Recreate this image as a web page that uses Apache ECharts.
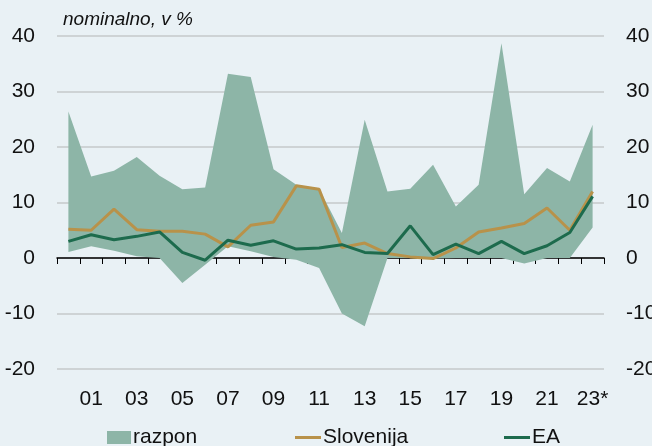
<!DOCTYPE html>
<html>
<head>
<meta charset="utf-8">
<script src="https://cdn.jsdelivr.net/npm/echarts@6/dist/echarts.min.js"></script>
<style>
  html, body { margin: 0; padding: 0; background: #e9f1f5; }
  #chart { width: 652px; height: 446px; }
</style>
</head>
<body>
<div id="chart"></div>
<script>
// leta (kategorije na osi x)
const years = ["00", "01", "02", "03", "04", "05", "06", "07", "08", "09", "10", "11",
  "12", "13", "14", "15", "16", "17", "18", "19", "20", "21", "22", "23*"];
// razpon - spodnja in zgornja meja
const rangeLow = [1.1, 2.1, 1.3, 0.3, 0.0, -4.5, -1.2, 2.1, 1.2, 0.2, -0.3, -1.8,
  -10.0, -12.3, 0.0, 0.0, -0.1, 0.0, 0.0, 0.0, -1.0, 0.0, 0.0, 5.5];
const rangeHigh = [26.4, 14.7, 15.7, 18.2, 14.8, 12.4, 12.7, 33.2, 32.6, 16.0, 13.2, 12.5,
  4.5, 24.9, 12.0, 12.5, 16.8, 9.3, 13.2, 38.7, 11.5, 16.2, 13.8, 24.0];
// Slovenija
const slovenia = [5.2, 5.0, 8.8, 5.1, 4.8, 4.8, 4.3, 2.0, 5.9, 6.5, 13.0, 12.4,
  1.9, 2.7, 0.8, 0.2, -0.1, 1.8, 4.7, 5.4, 6.2, 9.0, 5.0, 12.0];
// evrsko obmocje
const euroArea = [3.0, 4.2, 3.3, 3.9, 4.7, 1.0, -0.4, 3.2, 2.3, 3.1, 1.6, 1.8,
  2.4, 1.0, 0.8, 5.8, 0.6, 2.5, 0.8, 3.0, 0.8, 2.2, 4.6, 11.1];
// oznake osi y
const yTicks = [-20, -10, 0, 10, 20, 30, 40];

const FONT = "'Liberation Sans', Arial, sans-serif";
const BAND = "#8db5a7";
const SLO = "#b8924a";
const EA = "#1d6b4d";

const rangeSpan = rangeHigh.map((v, i) => +(v - rangeLow[i]).toFixed(2));

const chart = echarts.init(document.getElementById("chart"));

const yAxisBase = (pos) => ({
  type: "value",
  position: pos,
  min: yTicks[0],
  max: yTicks[yTicks.length - 1],
  interval: 10,
  axisLine: { show: false },
  axisTick: { show: false },
  axisLabel: { color: "#111", fontFamily: FONT, fontSize: 21, margin: 22 },
  splitLine: { show: pos === "left", lineStyle: { color: "#c4c8ca", width: 1.5 } }
});

const legendBase = (left, name, icon, w, h) => ({
  left: left,
  top: 427,
  data: [{ name: name, icon: icon }],
  itemWidth: w,
  itemHeight: h,
  padding: 0,
  textStyle: { fontFamily: FONT, fontSize: 21, color: "#111", padding: [0, 0, 0, -3] }
});

chart.setOption({
  backgroundColor: "#e9f1f5",
  animation: false,
  title: {
    text: "nominalno, v %",
    left: 63,
    top: 10,
    padding: 0,
    textStyle: { fontFamily: FONT, fontSize: 19, fontStyle: "italic", fontWeight: "normal", color: "#111" }
  },
  grid: { left: 57, right: 48, top: 36, bottom: 77, containLabel: false, outerBoundsMode: "none" },
  legend: [
    legendBase(107, "razpon", "rect", 24, 13),
    legendBase(295, "Slovenija", "rect", 26, 3),
    legendBase(504, "EA", "rect", 26, 3)
  ],
  xAxis: {
    type: "category",
    data: years,
    boundaryGap: true,
    axisLine: { lineStyle: { color: "#000", width: 1.5 } },
    axisTick: { show: true, interval: 0, length: 6, lineStyle: { color: "#000" } },
    axisLabel: {
      interval: (i) => i % 2 === 1,
      color: "#111",
      fontFamily: FONT,
      fontSize: 21,
      margin: 20
    },
    splitLine: { show: false }
  },
  yAxis: [yAxisBase("left"), yAxisBase("right")],
  series: [
    {
      name: "base",
      type: "line",
      data: rangeLow,
      stack: "band",
      stackStrategy: "all",
      symbol: "none",
      lineStyle: { opacity: 0 },
      silent: true
    },
    {
      name: "razpon",
      type: "line",
      data: rangeSpan,
      stack: "band",
      stackStrategy: "all",
      symbol: "none",
      itemStyle: { color: BAND },
      lineStyle: { opacity: 0 },
      areaStyle: { color: BAND, opacity: 1 }
    },
    {
      name: "Slovenija",
      type: "line",
      data: slovenia,
      symbol: "none",
      itemStyle: { color: SLO },
      lineStyle: { color: SLO, width: 3 }
    },
    {
      name: "EA",
      type: "line",
      data: euroArea,
      symbol: "none",
      itemStyle: { color: EA },
      lineStyle: { color: EA, width: 3 }
    }
  ]
});
</script>
</body>
</html>
